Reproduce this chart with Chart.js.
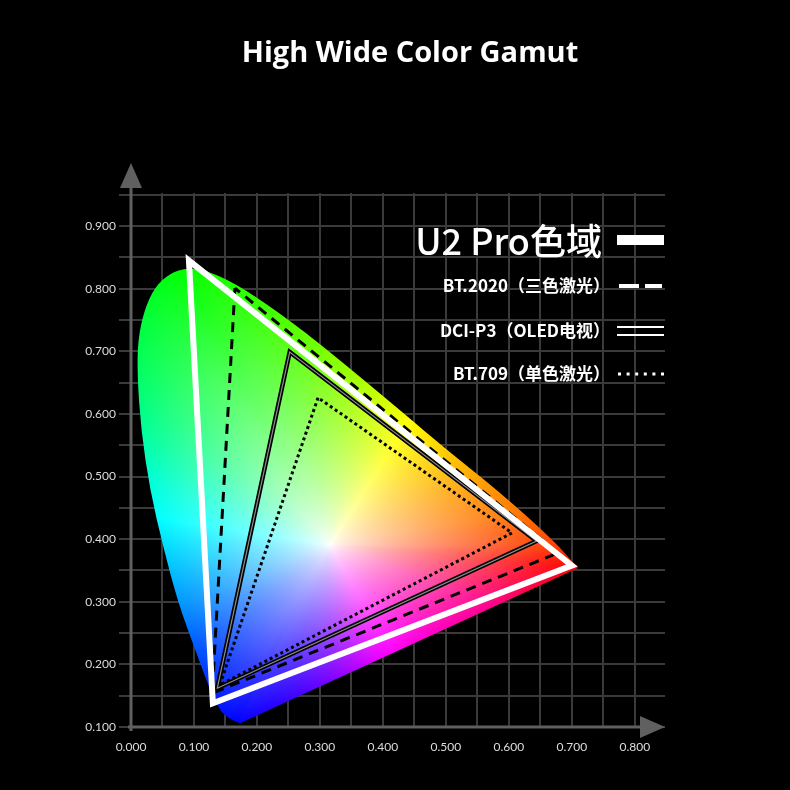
<!DOCTYPE html>
<html>
<head>
<meta charset="utf-8">
<title>High Wide Color Gamut</title>
<script src="https://cdn.jsdelivr.net/npm/chart.js@4.4.1/dist/chart.umd.min.js"></script>
<style>
  html, body { margin: 0; background: #000; }
</style>
</head>
<body>
<canvas id="gamut" width="790" height="790"></canvas>
<script>
// chromaticity coordinates (CIE x, y)
const locusX = [0.173, 0.151, 0.135, 0.122, 0.102, 0.075, 0.051, 0.030, 0.016, 0.010, 0.011, 0.021,
  0.038, 0.062, 0.087, 0.117, 0.165, 0.237, 0.316, 0.427, 0.506, 0.586, 0.670, 0.710];
const locusY = [0.106, 0.114, 0.137, 0.169, 0.223, 0.298, 0.388, 0.479, 0.574, 0.662, 0.718, 0.766,
  0.803, 0.825, 0.833, 0.830, 0.809, 0.761, 0.699, 0.606, 0.539, 0.475, 0.399, 0.354];

const u2X = [0.092, 0.130, 0.700];
const u2Y = [0.845, 0.138, 0.358];
const bt2020X = [0.165, 0.129, 0.678];
const bt2020Y = [0.801, 0.154, 0.378];
const p3X = [0.252, 0.137, 0.644];
const p3Y = [0.699, 0.162, 0.397];
const bt709X = [0.297, 0.141, 0.605];
const bt709Y = [0.626, 0.167, 0.410];

const whitePoint = [0.316, 0.391];

const xTickLabels = ['0.000', '0.100', '0.200', '0.300', '0.400', '0.500', '0.600', '0.700', '0.800'];
const yTickLabels = ['0.100', '0.200', '0.300', '0.400', '0.500', '0.600', '0.700', '0.800', '0.900'];

const legendLabels = ['U2 Pro色域', 'BT.2020（三色激光）', 'DCI-P3（OLED电视）', 'BT.709（单色激光）'];
const titleText = 'High Wide Color Gamut';

// hue around the white point: direction angle (deg) -> hue (deg)
const hueAngles = [-180, -158, -140, -118, -100, -67, -20, -8, 0, 10, 30, 58, 90, 118, 135, 160, 180];
const hueValues = [188, 205, 222, 240, 258, 295, 328, 352, 375, 388, 402, 420, 450, 480, 500, 530, 548];

function hueAt(angle) {
  for (let i = 1; i < hueAngles.length; i++) {
    if (angle <= hueAngles[i]) {
      const t = (angle - hueAngles[i - 1]) / (hueAngles[i] - hueAngles[i - 1]);
      return hueValues[i - 1] + t * (hueValues[i] - hueValues[i - 1]);
    }
  }
  return hueValues[hueValues.length - 1];
}

function pureHue(h) {
  h = ((h % 360) + 360) % 360;
  const k = n => {
    const m = (n + h / 60) % 6;
    return 1 - Math.max(0, Math.min(m, 4 - m, 1));
  };
  return [k(5), k(3), k(1)];
}

// distance from the white point to the locus edge, per direction
const BINS = 1440;
function edgeDistances() {
  const out = new Float32Array(BINS);
  const n = locusX.length;
  for (let b = 0; b < BINS; b++) {
    const ang = (b / BINS) * 2 * Math.PI - Math.PI;
    const ux = Math.cos(ang), uy = Math.sin(ang);
    let best = 1;
    for (let i = 0; i < n; i++) {
      const ax = locusX[i] - whitePoint[0], ay = locusY[i] - whitePoint[1];
      const bx = locusX[(i + 1) % n] - whitePoint[0], by = locusY[(i + 1) % n] - whitePoint[1];
      const ex = bx - ax, ey = by - ay;
      const den = ux * ey - uy * ex;
      if (Math.abs(den) < 1e-12) continue;
      const t = (ax * ey - ay * ex) / den;
      const s = (ax * uy - ay * ux) / den;
      if (t > 0 && s >= 0 && s <= 1 && t < best) best = t;
    }
    out[b] = best;
  }
  return out;
}

function chromaColor(cx, cy, edges) {
  const dx = cx - whitePoint[0];
  const dy = cy - whitePoint[1];
  const d = Math.sqrt(dx * dx + dy * dy);
  const ang = Math.atan2(dy, dx);
  const b = Math.min(BINS - 1, Math.floor((ang + Math.PI) / (2 * Math.PI) * BINS));
  const s = Math.pow(Math.min(1, d / edges[b]), 0.75);
  const rgb = pureHue(hueAt(ang * 180 / Math.PI));
  return rgb.map(c => Math.round(255 * (1 - s + s * c)));
}

function tri(xs, ys, wrap) {
  const pts = xs.map((v, i) => ({ x: v, y: ys[i] }));
  pts.push(pts[0]);
  if (wrap) pts.push(pts[1]);
  return pts;
}

function tickLabel(list, first) {
  return value => {
    const k = Math.round(value * 100);
    if (k % 10 !== 0) return '';
    return list[Math.round(k / 10) - first] || '';
  };
}

const locusPlugin = {
  id: 'locus',
  beforeDatasetsDraw(chart) {
    const { ctx, chartArea: a, scales: { x, y } } = chart;
    const w = Math.ceil(a.right - a.left);
    const h = Math.ceil(a.bottom - a.top);
    if (!chart.$locusImg) {
      const edges = edgeDistances();
      const off = document.createElement('canvas');
      off.width = w;
      off.height = h;
      const octx = off.getContext('2d');
      const img = octx.createImageData(w, h);
      for (let j = 0; j < h; j++) {
        const vy = y.getValueForPixel(a.top + j + 0.5);
        for (let i = 0; i < w; i++) {
          const vx = x.getValueForPixel(a.left + i + 0.5);
          const c = chromaColor(vx, vy, edges);
          const p = (j * w + i) * 4;
          img.data[p] = c[0];
          img.data[p + 1] = c[1];
          img.data[p + 2] = c[2];
          img.data[p + 3] = 255;
        }
      }
      octx.putImageData(img, 0, 0);
      chart.$locusImg = off;
    }
    const pts = locusX.map((v, i) => [x.getPixelForValue(v), y.getPixelForValue(locusY[i])]);
    const n = pts.length;
    ctx.save();
    ctx.beginPath();
    ctx.moveTo(pts[0][0], pts[0][1]);
    for (let i = 1; i < n - 1; i++) {
      const mx = (pts[i][0] + pts[i + 1][0]) / 2;
      const my = (pts[i][1] + pts[i + 1][1]) / 2;
      ctx.quadraticCurveTo(pts[i][0], pts[i][1], mx, my);
    }
    ctx.lineTo(pts[n - 1][0], pts[n - 1][1]);
    ctx.closePath();
    ctx.clip();
    ctx.drawImage(chart.$locusImg, a.left, a.top);
    ctx.restore();
  }
};

const axesPlugin = {
  id: 'arrowAxes',
  afterDatasetsDraw(chart) {
    const { ctx, chartArea: a, scales: { x, y } } = chart;
    const x0 = x.getPixelForValue(0);
    const y0 = y.getPixelForValue(0.1);
    ctx.save();
    ctx.strokeStyle = '#606060';
    ctx.fillStyle = '#606060';
    ctx.lineWidth = 3;
    ctx.beginPath();
    ctx.moveTo(x0, y0 + 4);
    ctx.lineTo(x0, a.top - 6);
    ctx.moveTo(x0 - 3, y0);
    ctx.lineTo(a.right - 24, y0);
    ctx.stroke();
    ctx.beginPath();
    ctx.moveTo(x0 - 11, a.top - 5);
    ctx.lineTo(x0 + 11, a.top - 5);
    ctx.lineTo(x0, a.top - 30);
    ctx.closePath();
    ctx.fill();
    ctx.beginPath();
    ctx.moveTo(a.right - 25, y0 - 11);
    ctx.lineTo(a.right - 25, y0 + 11);
    ctx.lineTo(a.right, y0);
    ctx.closePath();
    ctx.fill();
    ctx.restore();
  }
};

const textPlugin = {
  id: 'texts',
  afterDraw(chart) {
    const { ctx, chartArea: a } = chart;
    ctx.save();
    ctx.fillStyle = '#ffffff';
    ctx.textAlign = 'center';
    ctx.textBaseline = 'alphabetic';
    ctx.font = 'bold 29px "Open Sans"';
    ctx.fillText(titleText, chart.width / 2 + 15, 62);

    const rows = [a.top + 47, a.top + 93, a.top + 138, a.top + 181];
    const s0 = a.right - 48;
    const s1 = a.right - 1;
    ctx.textAlign = 'right';
    ctx.textBaseline = 'middle';
    legendLabels.forEach((label, i) => {
      if (i === 0) {
        ctx.font = '500 36px "Noto Sans CJK SC"';
        ctx.fillText(label, a.right - 63, rows[i] + 1);
      } else {
        ctx.font = 'bold 17px "Noto Sans CJK SC"';
        ctx.fillText(label, a.right - 55, rows[i]);
      }
    });
    ctx.strokeStyle = '#ffffff';
    ctx.lineCap = 'butt';
    // U2 Pro: thick solid bar
    ctx.lineWidth = 10;
    ctx.beginPath();
    ctx.moveTo(s0, rows[0]);
    ctx.lineTo(s1, rows[0]);
    ctx.stroke();
    // BT.2020: dashed
    ctx.lineWidth = 4;
    ctx.setLineDash([20, 6]);
    ctx.beginPath();
    ctx.moveTo(s0 + 2, rows[1]);
    ctx.lineTo(s1 - 2, rows[1]);
    ctx.stroke();
    ctx.setLineDash([]);
    // DCI-P3: double line
    ctx.lineWidth = 2;
    ctx.beginPath();
    ctx.moveTo(s0, rows[2] - 4);
    ctx.lineTo(s1, rows[2] - 4);
    ctx.moveTo(s0, rows[2] + 4);
    ctx.lineTo(s1, rows[2] + 4);
    ctx.stroke();
    // BT.709: dotted
    ctx.lineWidth = 3;
    ctx.setLineDash([3, 5.6]);
    ctx.beginPath();
    ctx.moveTo(s0 + 1, rows[3]);
    ctx.lineTo(s1, rows[3]);
    ctx.stroke();
    ctx.restore();
  }
};

const lineBase = { showLine: true, pointRadius: 0, pointHoverRadius: 0, fill: false, tension: 0, clip: false };

new Chart(document.getElementById('gamut'), {
  type: 'scatter',
  data: {
    datasets: [
      { ...lineBase, label: legendLabels[0], data: tri(u2X, u2Y, true), borderColor: '#ffffff', borderWidth: 6, borderJoinStyle: 'miter' },
      { ...lineBase, label: legendLabels[1], data: tri(bt2020X, bt2020Y, false), borderColor: '#000000', borderWidth: 3, borderDash: [10, 7] },
      { ...lineBase, label: legendLabels[2] + ' inner', data: tri(p3X, p3Y, true), borderColor: '#8c8c8c', borderWidth: 1.2, borderJoinStyle: 'miter' },
      { ...lineBase, label: legendLabels[2], data: tri(p3X, p3Y, true), borderColor: '#000000', borderWidth: 4.5, borderJoinStyle: 'miter' },
      { ...lineBase, label: legendLabels[3], data: tri(bt709X, bt709Y, false), borderColor: '#000000', borderWidth: 3, borderDash: [3, 3] }
    ]
  },
  options: {
    responsive: false,
    animation: false,
    events: [],
    layout: { padding: { top: 193, right: 125, bottom: 23, left: 0 } },
    plugins: {
      legend: { display: false },
      tooltip: { enabled: false },
      title: { display: false }
    },
    scales: {
      x: {
        type: 'linear',
        min: 0,
        max: 0.848,
        border: { display: false },
        grid: { color: '#3a3a3a', lineWidth: 2, drawTicks: false },
        ticks: {
          stepSize: 0.05,
          includeBounds: false,
          autoSkip: false,
          maxRotation: 0,
          minRotation: 0,
          padding: 13,
          color: '#dcdcdc',
          font: { family: 'Lato', size: 12 },
          callback: tickLabel(xTickLabels, 0)
        },
        afterFit: s => { s.height = 40; }
      },
      y: {
        type: 'linear',
        min: 0.1,
        max: 0.953,
        border: { display: false },
        grid: { color: '#3a3a3a', lineWidth: 2, drawTicks: true, tickLength: 12 },
        ticks: {
          stepSize: 0.05,
          includeBounds: false,
          autoSkip: false,
          padding: 3,
          color: '#dcdcdc',
          font: { family: 'Lato', size: 12 },
          callback: tickLabel(yTickLabels, 1)
        },
        afterFit: s => { s.width = 131; }
      }
    }
  },
  plugins: [locusPlugin, axesPlugin, textPlugin]
});
</script>
</body>
</html>
